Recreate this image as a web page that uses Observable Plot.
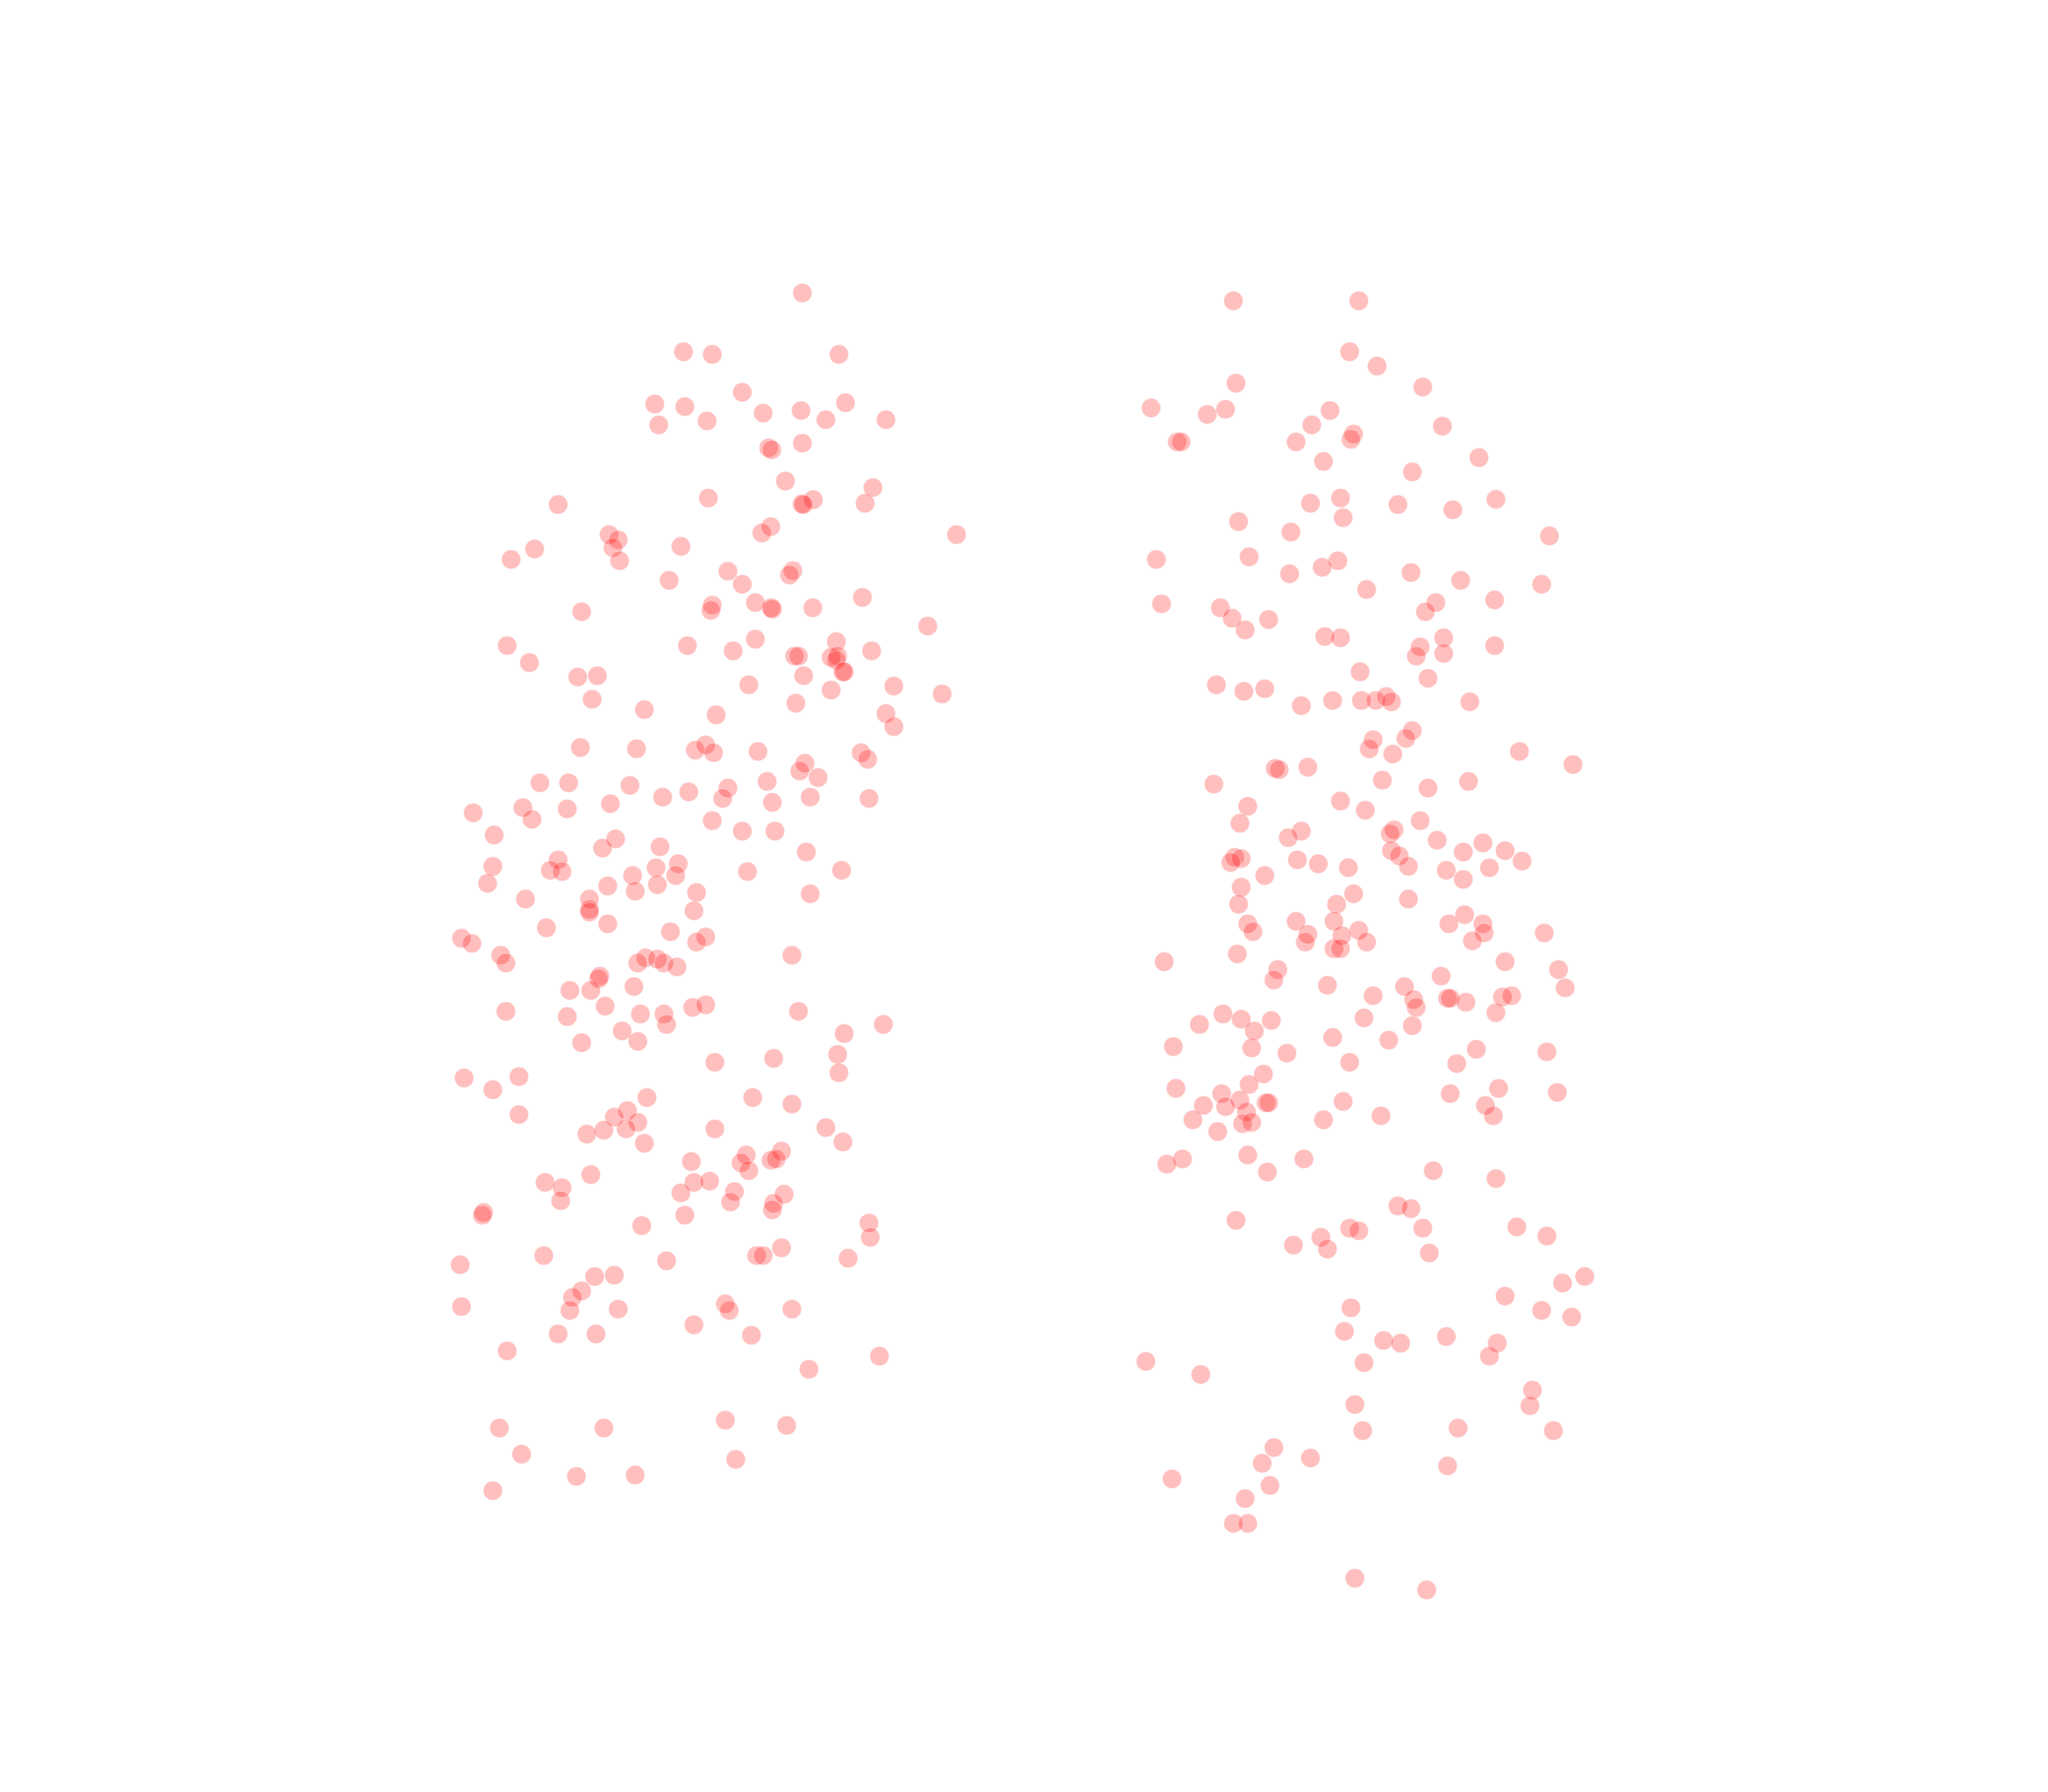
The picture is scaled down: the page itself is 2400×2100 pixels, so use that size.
<!DOCTYPE html>
<html>
<head>
<meta charset="utf-8">
<script src="https://cdn.jsdelivr.net/npm/d3@7"></script>
<script src="https://cdn.jsdelivr.net/npm/@observablehq/plot@0.6"></script>
<style>html,body{margin:0;padding:0;background:#fff}svg{display:block}</style>
</head>
<body>
<div id="chart"></div>
<script>
const leftPoints = [[614,224],[523,269],[545,271],[642,271],[568,300],[501,309],[524,311],[541,322],[504,325],[584,316],[613,314],[632,321],[647,308],[678,321],[614,339],[588.2,342.6],[590.6,344.1],[601,368],[668,373],[542,381],[622.4,382.2],[613.7,385.5],[614.8,386],[662,385],[427,386],[589.8,402.9],[583,407.7],[466,409],[473,413],[469,419],[474,429],[521,418],[409,420],[391,428],[732,409],[557,437],[606.7,436.6],[604.1,439.9],[512,444],[568,447],[660,457],[545,463],[544,467],[578,461],[590,465],[591,466],[622,465],[445,468],[710,479],[578,489],[640,491],[526,494],[388,494],[561,498],[667,498],[608,502],[611,502],[636,503],[641,502],[640,505],[405,507],[645,514],[646,514],[615,517],[442,518],[457,517],[573,524],[684,525],[636,528],[721,531],[453,535],[609,538],[493,543],[548,547],[678,546],[684,556],[444,572],[487,573],[532,574],[540,570],[546,576],[580,575],[659,576],[664,581],[616,584],[612,590],[626,595],[413,599],[435,599],[482,601],[587,598],[557,603],[527,606],[507,610],[553,611],[620,610],[665,611],[591,614],[467,615],[434,619],[400,618],[362,622],[407,627],[545,628],[378,639],[568,636],[593,636],[471,642],[461,649],[505,648],[617,652],[377,663],[427,658],[421,666],[430,667],[519,661],[502,664],[517,670],[484,670],[572,667],[644,666],[373,676],[465,678],[503,677],[486,682],[533,683],[620,684],[402,688],[451,688],[531,697],[451,696],[451,698],[465,707],[418,710],[513,713],[353,718],[361,722],[540,717],[533,721],[383,731],[387,737],[606,731],[494,733],[503,734],[508,737],[488,737],[518,740],[459,747],[458,749],[485,755],[436,758],[452,758],[463,770],[530,771],[540,769],[611,774],[387,774],[434,778],[490,776],[508,776],[510,784],[676,784],[476,789],[646,791],[488,797],[445,798],[641,807],[592,810],[547,813],[642,821],[355,825],[397,824],[377,834],[495,840],[576,840],[606,845],[480,850],[397,853],[470,855],[488,859],[632,863],[547,864],[462,865],[479,864],[449,868],[645,874],[493,875],[571,884],[598,881],[529,889],[567,890],[590,888],[594,887],[573,896],[452,899],[417,905],[531,905],[543,904],[430,909],[521,913],[562,912],[600,914],[429,919],[559,920],[592,921],[591,926],[370,928],[369,930],[524,930],[665,936],[491,938],[666,947],[598,955],[579,961],[584,961],[416,961],[649,963],[510,965],[352,968],[455,977],[470,976],[445,988],[438,993],[353,1000],[555,998],[558,1003],[473,1002],[436,1003],[606,1002],[531,1014],[427,1021],[456,1021],[575,1022],[388,1034],[673,1038],[619,1048],[555,1087],[382,1093],[462,1093],[602,1091],[399,1113],[563,1117],[441,1130],[486,1129],[377,1141]];
const rightPoints = [[944,230],[1040,230],[1033,269],[1054,280],[946,293],[1089,296],[881,312],[938,313],[924,317],[1018,314],[1004,325],[1104,326],[1036,332],[1034,336],[901,338],[904,338],[992,338],[1132,350],[1013,353],[1081,361],[1026,381],[1003,385],[1070,386],[1145,382],[1112,390],[1028,396],[948,399],[988,407],[1186,410],[885,428],[956,426],[1024,429],[1012,434],[987,439],[1080,438],[1118,444],[1046,451],[1180,447],[889,462],[934,465],[1144,459],[1099,461],[1091,468],[943,473],[971,474],[953,482],[1014,487],[1026,488],[1105,488],[1087,495],[1144,494],[1105,500],[1084,502],[1041,514],[1093,519],[931,524],[952,529],[968,527],[1020,536],[996,540],[1042,536],[1053,536],[1061,533],[1065,537],[1125,537],[1081,559],[1076,565],[1051,566],[1048,573],[1066,577],[1163,575],[1204,585],[976,588],[979,589],[1001,587],[929,600],[1058,597],[1124,598],[1093,603],[1026,613],[955,617],[1045,620],[949,630],[1087,628],[996,636],[1067,635],[1064,638],[986,641],[1100,643],[1135,645],[1065,651],[1120,652],[1152,651],[1071,655],[945,656],[950,657],[942,660],[993,658],[1009,661],[1032,664],[1078,663],[1165,659],[1140,664],[1107,666],[968,670],[1120,673],[950,679],[1036,684],[1078,688],[948,692],[1023,692],[1121,700],[992,705],[1021,705],[1135,707],[1109,707],[955,707],[959,713],[1040,712],[1136,714],[1182,714],[1001,715],[1027,716],[1046,721],[999,721],[1127,720],[1021,726],[1026,726],[947,730],[891,736],[1152,736],[978,742],[1193,742],[975,750],[1103,747],[1016,754],[1075,755],[1198,756],[1051,762],[1108,764],[1110,764],[1082,765],[1122,767],[1150,763],[1157,762],[1084,771],[1145,775],[936,776],[950,780],[973,781],[1044,779],[918,784],[1081,785],[960,789],[1020,794],[1063,796],[898,801],[958,802],[985,806],[1130,803],[1184,805],[1033,813],[1115,814],[967,822],[956,830],[900,833],[1147,833],[1110,837],[1192,836],[935,837],[949,842],[1028,843],[969,844],[971,844],[921,846],[938,847],[1137,846],[954,851],[1143,854],[1057,854],[913,857],[951,860],[958,859],[1013,857],[932,866],[955,884],[905,887],[893,891],[998,887],[970,897],[1097,896],[1145,902],[1070,923],[1080,925],[946,934],[1033,940],[1040,942],[1089,940],[1161,939],[1011,947],[1184,946],[990,953],[1016,956],[1094,959],[1213,977],[1196,982],[1152,992],[1034,1001],[1180,1003],[1203,1008],[1029,1019],[1059,1026],[1072,1028],[1107,1023],[1146,1028],[1140,1038],[877,1042],[1044,1043],[919,1052],[1173,1064],[1171,1076],[1037,1075],[1043,1095],[1116,1093],[1189,1095],[975,1108],[1003,1116],[966,1120],[1108,1122],[897,1132],[972,1137],[953,1147],[944,1166],[955,1166],[1037,1208],[1092,1217]];
const xDomain = [0, 1568];
const yDomain = [1372, 0];
const points = leftPoints.concat(rightPoints);
const chart = Plot.plot({
  width: 2400,
  height: 2100,
  margin: 0,
  x: {domain: xDomain, axis: null},
  y: {domain: yDomain, axis: null},
  marks: [
    Plot.dot(points, {
      x: d => d[0],
      y: d => d[1],
      r: 11.2,
      fill: "#ff0000",
      fillOpacity: 0.25,
      stroke: "#ffffff",
      strokeWidth: 1,
      strokeOpacity: 0.3
    })
  ]
});
document.getElementById("chart").appendChild(chart);
</script>
</body>
</html>
